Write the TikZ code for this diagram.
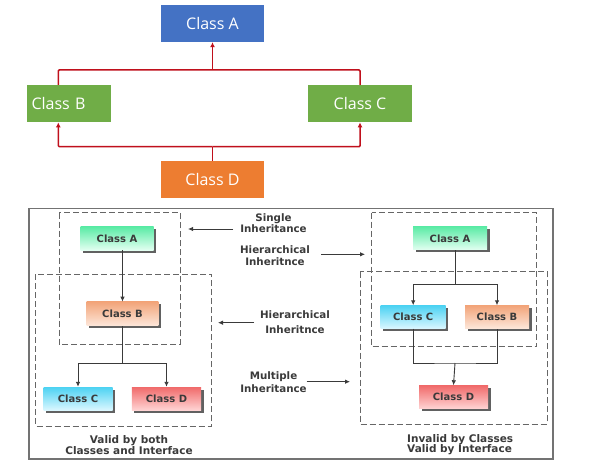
\documentclass[tikz,border=0pt]{standalone}
\usepackage{fontspec}
\newfontfamily\ofont{Open Sans}
\newfontfamily\dfont{DejaVu Sans}
\usetikzlibrary{arrows.meta,shadows}
\definecolor{cblue}{HTML}{4472C4}
\definecolor{cgreen}{HTML}{70AD47}
\definecolor{corange}{HTML}{ED7D31}
\definecolor{cred}{HTML}{C0101C}
\definecolor{txt}{HTML}{3A3A3A}
\definecolor{gAt}{HTML}{5CEBA6}
\definecolor{gAb}{HTML}{E2FFF1}
\definecolor{gBt}{HTML}{F2A479}
\definecolor{gBb}{HTML}{FDE7DA}
\definecolor{gCt}{HTML}{4CD2F2}
\definecolor{gCb}{HTML}{DAF7FF}
\definecolor{gDt}{HTML}{F06A6A}
\definecolor{gDb}{HTML}{FFD3D3}
\begin{document}
\begin{tikzpicture}[x=1pt,y=-1pt,
  topbox/.style={fill=#1, text=white, font=\ofont\fontsize{16}{18}\selectfont,
    minimum height=37pt, inner sep=0pt},
  redln/.style={draw=cred, line width=1.5pt, rounded corners=1pt},
  redarr/.style={redln, -{Latex[length=5pt,width=5pt]}},
  cls/.style={minimum height=23pt, inner sep=0pt, text=txt,
    font=\dfont\bfseries\fontsize{10}{11}\selectfont,
    drop shadow={shadow xshift=2.5pt, shadow yshift=-2.5pt, fill=black!62, opacity=1}},
  ln/.style={draw=txt, line width=0.9pt},
  arr/.style={ln, -{Latex[length=5pt,width=4.5pt]}},
  dbox/.style={draw=black!60, line width=0.8pt, dash pattern=on 6pt off 3pt},
  lbl/.style={text=txt, font=\dfont\bfseries\fontsize{10.3}{12}\selectfont, align=center, inner sep=0pt},
  captxt/.style={text=txt, font=\dfont\bfseries\fontsize{10.5}{10.6}\selectfont, inner sep=0pt}
]
\useasboundingbox (0,0) rectangle (613,473);
\fill[white] (0,0) rectangle (613,473);

% ---------- top diagram ----------
\node[topbox=cblue, minimum width=103pt] (A) at (212.5,23.5) {Class A};
\node[topbox=cgreen, minimum width=83.4pt, text width=75pt, align=left] (B) at (69,103.7) {Class B};
\node[topbox=cgreen, minimum width=103.4pt] (C) at (360,103.7) {Class C};
\node[topbox=corange, minimum width=103pt] (D) at (212.5,179.3) {Class D};
\coordinate (jt) at (212.5,70);
\coordinate (jb) at (212.5,146.7);
\draw[redln] ([xshift=-10.7pt]B.north) |- (jt) -| (C.north);
\draw[redarr] (jt) -- (A.south);
\draw[redln] (D.north) -- (jb);
\draw[redarr] (jb) -| ([xshift=-10.7pt]B.south);
\draw[redarr] (jb) -| (C.south);

% ---------- bottom panel ----------
\draw[draw=black!55, line width=1.2pt] (29,208.5) rectangle (553,459);
\draw[dbox] (59,212.7) rectangle (180,344.5);
\draw[dbox] (35.5,274) rectangle (211.7,426);
\draw[dbox] (371.7,212.7) rectangle (536.7,346.7);
\draw[dbox] (360,271.7) rectangle (547,424);

% left tree
\node[cls, top color=gAt, bottom color=gAb, minimum width=73pt] (LA) at (117,238.5) {Class A};
\node[cls, top color=gBt, bottom color=gBb, minimum width=71.6pt, minimum height=24pt] (LB) at (122.5,313.8) {Class B};
\node[cls, top color=gCt, bottom color=gCb, minimum width=69pt] (LC) at (78,398.5) {Class C};
\node[cls, top color=gDt, bottom color=gDb, minimum width=69.3pt] (LD) at (166.5,398.5) {Class D};
\coordinate (lj) at (122.5,363);
\draw[arr] (LA.south -| LB.north) -- (LB.north);
\draw[ln] (LB.south) -- (lj);
\draw[arr] (lj) -| (LC.north);
\draw[arr] (lj) -| (LD.north);

% right tree
\node[cls, top color=gAt, bottom color=gAb, minimum width=74pt] (RA) at (450,238.3) {Class A};
\node[cls, top color=gCt, bottom color=gCb, minimum width=65pt] (RC) at (413.2,317) {Class C};
\node[cls, top color=gBt, bottom color=gBb, minimum width=64pt] (RB) at (497,317) {Class B};
\node[cls, top color=gDt, bottom color=gDb, minimum width=69pt] (RD) at (453.5,397) {Class D};
\coordinate (rj1) at (455,284);
\coordinate (rj2) at (455,363);
\draw[ln] (RA.south -| rj1) -- (rj1);
\draw[arr] (rj1) -| (RC.north);
\draw[arr] (rj1) -| (RB.north);
\draw[ln] (RC.south) |- (rj2) -| (RB.south);
\draw[arr] (rj2) -- (RD.north);

% labels
\node[lbl] (L1) at (273.5,223.3) {Single\\[-0.7pt]Inheritance};
\node[lbl] (L2) at (275,255.7) {Hierarchical\\Inheritnce};
\node[lbl] (L3) at (295,321.8) {Hierarchical\\[3pt]Inheritnce};
\node[lbl] (L4) at (273.5,382) {Multiple\\[1.5pt]Inheritance};
\coordinate (s1) at (233,229);   \coordinate (t1) at (188,229);
\coordinate (s2) at (321,254.3); \coordinate (t2) at (365,254.3);
\coordinate (s3) at (254,322.7); \coordinate (t3) at (218,322.7);
\coordinate (s4) at (306.7,381.7); \coordinate (t4) at (350,381.7);
\draw[arr] (s1) -- (t1);
\draw[arr] (s2) -- (t2);
\draw[arr] (s3) -- (t3);
\draw[arr] (s4) -- (t4);

% captions
\node[captxt, align=center] (capL) at (129,445.2) {Valid by both\\Classes and Interface};
\node[captxt, align=left, anchor=west] (capR) at (407,444.8) {Invalid by Classes\\Valid by Interface};
\end{tikzpicture}
\end{document}
